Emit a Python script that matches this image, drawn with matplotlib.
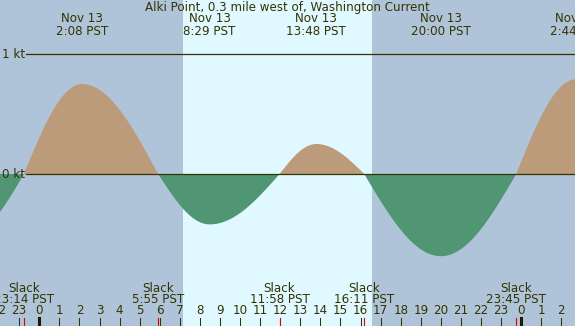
import numpy as np
import matplotlib
matplotlib.use("Agg")
import matplotlib.pyplot as plt
from matplotlib.transforms import blended_transform_factory

TITLE = "Alki Point, 0.3 mile west of, Washington Current"

# tide events, hours from midnight Nov 13 (PST); speed in knots
EVENT_HOURS = [-3.5, -0.767, 2.133, 5.917, 8.483, 11.967, 13.8, 16.183, 20.0, 23.75, 26.733]
EVENT_KT = [-0.5, 0.0, 0.75, 0.0, -0.42, 0.0, 0.25, 0.0, -0.685, 0.0, 0.79]

MAX_HOURS = [2.133, 8.483, 13.8, 20.0, 26.733]
MAX_DATES = ["Nov 13", "Nov 13", "Nov 13", "Nov 13", "Nov 14"]
MAX_LABELS = ["2:08 PST", "8:29 PST", "13:48 PST", "20:00 PST", "2:44 PST"]

SLACK_HOURS = [-0.767, 5.917, 11.967, 16.183, 23.75]
SLACK_LABELS = ["23:14 PST", "5:55 PST", "11:58 PST", "16:11 PST", "23:45 PST"]

SUNRISE = 7.15
SUNSET = 16.57

TICK_HOURS = list(range(-2, 27))
MIDNIGHTS = [0, 24]

W, H = 575, 326
X0_PX, PX_PER_HOUR = 39.3, 20.08
ZERO_PX, PX_PER_KT = 174, 120

NIGHT = "#b0c4d9"
DAY = "#e0f8ff"
FLOOD = "#bc9b7b"
EBB = "#519673"
INK = "#333300"


def curve(hours, kts, n=30):
    xs, ys = [], []
    for i in range(len(hours) - 1):
        s = np.linspace(0, 1, n, endpoint=False)
        if kts[i] == 0:
            v = kts[i + 1] * np.sin(s * np.pi / 2)
        else:
            v = kts[i] * np.cos(s * np.pi / 2)
        xs.append(hours[i] + s * (hours[i + 1] - hours[i]))
        ys.append(v)
    xs.append([hours[-1]])
    ys.append([kts[-1]])
    return np.concatenate(xs), np.concatenate(ys)


def ypos(px):
    return 1 - px / H


fig = plt.figure(figsize=(W / 100, H / 100), dpi=100)
ax = fig.add_axes([0, 0, 1, 1])
ax.set_xlim(-X0_PX / PX_PER_HOUR, (W - X0_PX) / PX_PER_HOUR)
ax.set_ylim((ZERO_PX - H) / PX_PER_KT, ZERO_PX / PX_PER_KT)
ax.axis("off")
ax.set_facecolor(NIGHT)
fig.patch.set_facecolor(NIGHT)
ax.axvspan(SUNRISE, SUNSET, color=DAY, lw=0)

x, y = curve(EVENT_HOURS, EVENT_KT)
ax.fill_between(x, 0, y, where=y >= 0, color=FLOOD, lw=0, interpolate=True)
ax.fill_between(x, 0, y, where=y <= 0, color=EBB, lw=0, interpolate=True)

line_start = 26 / W
ax.axhline(0, xmin=line_start, color=INK, lw=0.9)
ax.axhline(1, xmin=line_start, color=INK, lw=0.9)

fs = 8.6
ax.text(2 / W, ypos(ZERO_PX), "0 kt", transform=ax.transAxes, color=INK,
        fontsize=fs, va="center", ha="left")
ax.text(2 / W, ypos(ZERO_PX - PX_PER_KT), "1 kt", transform=ax.transAxes, color=INK,
        fontsize=fs, va="center", ha="left")

tr = blended_transform_factory(ax.transData, ax.transAxes)
ax.text(0.5, ypos(7.5), TITLE, transform=ax.transAxes, ha="center", va="center",
        color=INK, fontsize=fs)

for h, d, lab in zip(MAX_HOURS, MAX_DATES, MAX_LABELS):
    ax.text(h, ypos(18.5), d, transform=tr, ha="center", va="center", color=INK, fontsize=fs)
    ax.text(h, ypos(31.5), lab, transform=tr, ha="center", va="center", color=INK, fontsize=fs)

for h, lab in zip(SLACK_HOURS, SLACK_LABELS):
    ax.text(h, ypos(288), "Slack", transform=tr, ha="center", va="center", color=INK, fontsize=fs)
    ax.text(h, ypos(299.5), lab, transform=tr, ha="center", va="center", color=INK, fontsize=fs)

for h in TICK_HOURS:
    ax.text(h, ypos(311), str(h % 24), transform=tr, ha="center", va="center",
            color=INK, fontsize=fs)
    ax.plot([h, h], [ypos(318), 0], transform=tr, color=INK, lw=0.75, clip_on=False)

for h in MIDNIGHTS:
    ax.plot([h, h], [ypos(318), 0], transform=tr, color="#1a1a00", lw=2.2, clip_on=False)

for h in SLACK_HOURS:
    ax.plot([h, h], [ypos(318), 0], transform=tr, color="#e00000", lw=0.8, clip_on=False)

fig.savefig("out.png", dpi=100, facecolor=NIGHT)
